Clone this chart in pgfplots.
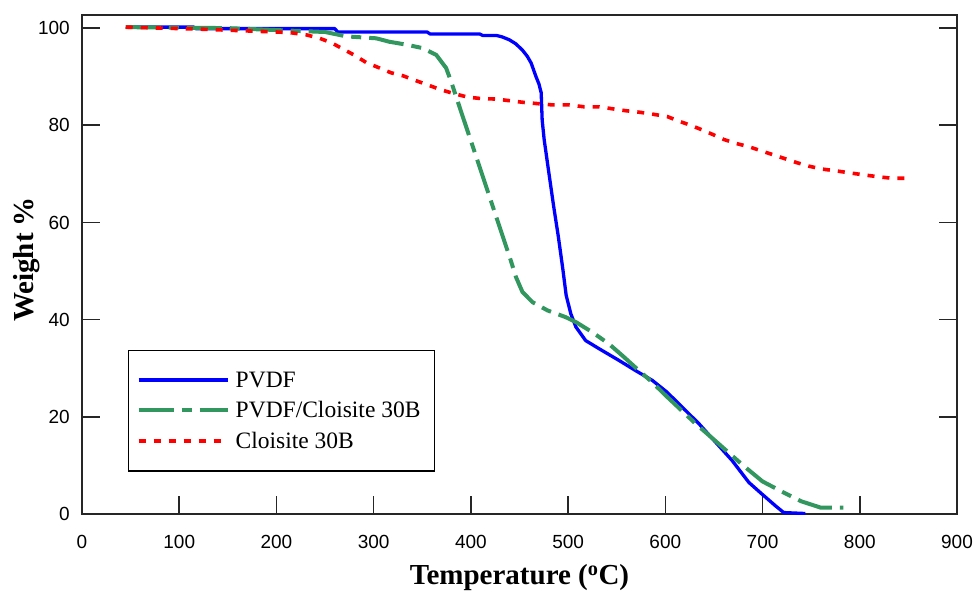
\documentclass[border=0pt]{standalone}
\usepackage{fontspec}
\setmainfont{Liberation Serif}
\newfontfamily\tickfont{Liberation Sans}
\usepackage{pgfplots}
\pgfplotsset{compat=1.18}
\definecolor{pvdfblue}{RGB}{0,0,255}
\definecolor{mixgreen}{RGB}{50,150,95}
\definecolor{clred}{RGB}{255,0,0}
\begin{document}
\begin{tikzpicture}
\begin{axis}[
  name=ax,
  scale only axis,
  width=875pt, height=499pt,
  xmin=0, xmax=900, ymin=0, ymax=102.7,
  xtick={0,100,...,900}, ytick={0,20,...,100},
  xtick pos=bottom, ytick pos=both,
  tick align=inside,
  major tick length=18pt,
  tick style={line width=1.6pt, black!85},
  axis line style={line width=1.6pt, black!85},
  /pgf/number format/assume math mode=true,
  ticklabel style={font=\tickfont\fontsize{19}{19}\selectfont, inner sep=0pt},
  xticklabel style={yshift=-21pt},
  yticklabel style={xshift=-12pt},
  xlabel={\textbf{Temperature (\textsuperscript{o}C)}},
  ylabel={\textbf{Weight \%}},
  label style={font=\fontsize{29}{29}\selectfont},
  xlabel style={at={(axis description cs:0.5,0)}, anchor=center, yshift=-64pt},
  ylabel style={at={(axis description cs:-0.0629,0.51)}, anchor=center},
  legend style={at={(axis description cs:0.0526,0.3287)}, anchor=north west,
    draw=black, line width=1.4pt, font=\fontsize{23.5}{26}\selectfont,
    inner xsep=8pt, inner ysep=19pt, row sep=9pt,
    nodes={inner xsep=6pt}},
  legend cell align=left,
  legend image code/.code={\draw[#1] (0pt,0pt) -- (89pt,0pt);},
]
\addplot[pvdfblue, line width=3.3pt, line join=round] coordinates {
(45,100.2) (115,100.2) (117,99.9) (260,99.9) (263,99.2) (355,99.2) (358,98.8)
(409,98.8) (412,98.5) (426,98.5) (432,98.2) (439.5,97.6) (446,96.8) (452.9,95.5)
(458,94.2) (462,92.8) (467,90.0) (470,88.5) (472.3,86.7) (473.3,81.1) (475.4,77)
(480,70.5) (485,63.5) (490,57) (494.5,50.5) (498,45) (502.8,41.2) (508,38.5)
(518,35.7) (532,34.0) (552.4,31.6) (569.5,29.5)
(586.6,27.5) (601.6,25.1) (634.5,18.6) (668.7,11.0) (685.9,6.5) (699.4,4.1)
(713.2,1.7) (721.7,0.3) (744,0.1)
};
\addlegendentry{PVDF}
\addplot[mixgreen, line width=4pt, dash pattern=on 35pt off 8pt on 10pt off 8pt] coordinates {
(45,100.2) (150,100.0) (250,99.2) (272,98.3) (302.7,97.9) (316,97.2) (333.5,96.6)
(350,95.9) (364.3,94.5) (374.5,91.8) (379.7,89.0) (384.8,85.9) (391.6,81.8)
(400,76.8) (410,70.8) (420,64.8) (430,58.8) (441,52.2) (446.3,48.8) (453,45.7)
(463.4,43.6) (478.8,41.9) (497.7,40.5) (508,39.5) (525,37.4) (542,35.0)
(555.8,32.6) (572.9,29.5) (586.6,27.1) (600.3,24.4) (630,18.8) (650,15.3)
(680,10) (700,6.7) (720,4.6) (740,2.6) (760,1.3) (783,1.3)
};
\addlegendentry{PVDF/Cloisite 30B}
\addplot[clred, line width=3.6pt, dash pattern=on 7pt off 8pt] coordinates {
(45,100.2) (120,99.8) (213,99.1) (231,98.6) (244.5,97.9) (256.5,97.0) (268.4,95.7)
(280.5,94.4) (292.5,92.9) (306,91.8) (318,90.8) (330,90.2) (342,89.3) (355.7,88.3)
(369.4,87.3) (383,86.5) (396.7,85.8) (410.5,85.5) (425.8,85.4) (454.9,84.7)
(483.6,84.2) (501,84.2) (516.5,83.8) (532,83.8) (545.5,83.4) (559.3,83.0)
(573,82.7) (586.6,82.3) (602,81.8) (613.3,80.9) (626,80.0) (638.6,79.0) (650,78.0)
(660,77.1) (672,76.3) (685.8,75.6) (697.8,74.8) (711.4,73.9) (723.4,73.1)
(735.4,72.3) (747.4,71.6) (761,71.0) (776.4,70.6) (790,70.2) (803.8,69.8)
(819.2,69.4) (832.8,69.1) (848.2,69.1)
};
\addlegendentry{Cloisite 30B}
\end{axis}
\pgfresetboundingbox
\path[use as bounding box] ([xshift=-82pt,yshift=-78pt]ax.south west) rectangle ([xshift=17pt,yshift=15pt]ax.north east);
\end{tikzpicture}
\end{document}
